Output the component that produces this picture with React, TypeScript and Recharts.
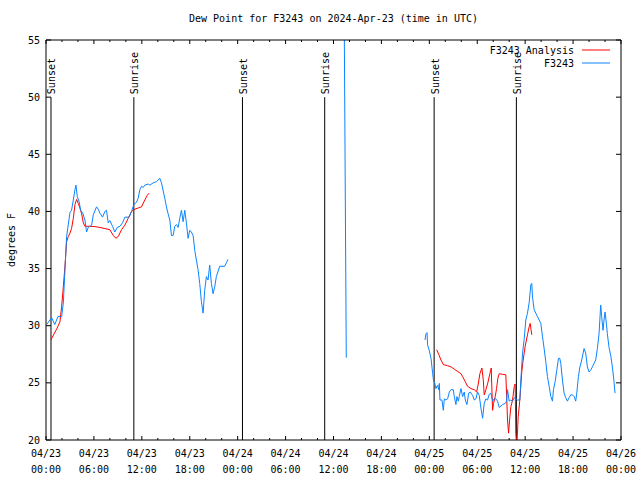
import React from 'react';
import { LineChart, Line, XAxis, YAxis, ReferenceLine } from 'recharts';

const FONT = '"DejaVu Sans Mono", monospace';
const RED = '#ff0000';
const BLUE = '#0a84ff';

// Hours since 2024-04-23 00:00 UTC
const analysisHours = [
  0.6, 1.33, 1.75, 1.96, 2.17, 2.375, 2.58, 2.79, 3.0, 3.2, 3.42, 3.625, 3.83, 4.04, 4.25, 4.46, 4.67, 4.875,
  5.5, 6.125, 6.75, 7.375, 8.0, 8.42, 8.75, 9.04, 9.46, 9.875, 10.29, 10.71, 11.125, 11.54, 11.96, 12.375,
  12.67, 12.92,
  30,
  48.92, 49.17, 49.46, 49.75, 50.29, 50.71, 51.125, 51.54, 51.96, 52.17, 52.5, 52.79, 53.21, 53.625, 53.92,
  54.125, 54.33, 54.58, 54.75, 54.875, 55.08, 55.29, 55.58, 55.75, 55.92, 56.04, 56.25, 56.42, 56.58, 56.75,
  57.17, 57.58, 57.79, 57.92, 58.08, 58.21, 58.42, 58.625, 58.75, 58.83, 58.96, 59.125, 59.33, 59.58, 59.75,
  60.0, 60.29, 60.5, 60.625, 60.75, 60.83,
];
const analysisValues: (number | null)[] = [
  28.75, 29.7, 30.35, 31.7, 33.4, 35.2, 37.35, 37.8, 38.1, 38.5, 39.4, 40.6, 41.05, 40.7, 40.3, 39.8, 39.0, 38.7,
  38.7, 38.67, 38.6, 38.5, 38.4, 37.9, 37.65, 37.8, 38.4, 38.8, 39.4, 40.0, 40.2, 40.3, 40.4, 41.0,
  41.4, 41.6,
  null,
  27.9, 27.5, 27.0, 26.6, 26.5, 26.4, 26.2, 26.0, 25.8, 25.55, 25.1, 24.7, 24.5, 24.4, 24.2,
  24.9, 25.8, 26.3, 25.3, 23.95, 24.4, 24.9, 25.8, 26.3, 22.6, 23.2, 23.8, 24.5, 25.4, 25.8,
  25.75, 25.7, 21.75, 20.6, 22.0, 22.9, 23.5, 24.65, 24.9, 20.6, 19.5, 22.0, 23.5, 26.0, 27.0,
  28.2, 29.2, 29.9, 30.2, 29.6, 29.2,
];

const obsHours = [
  0.08, 0.7, 1.1, 1.5, 1.96, 2.17, 2.58, 3.0, 3.2, 3.42, 3.625, 3.75, 3.92, 4.17, 4.33, 4.58, 4.875, 5.08,
  5.29, 5.71, 5.92, 6.33, 6.54, 6.75, 7.08, 7.375, 7.58, 7.79, 8.0, 8.33, 8.625, 8.92, 9.25, 9.58, 9.875,
  10.42, 10.71, 11.0, 11.33, 11.54, 11.75, 11.96, 12.17, 12.375, 12.79, 13.0, 13.42, 13.83, 14.25, 14.46,
  14.875, 15.08, 15.29, 15.5, 15.71, 15.92, 16.125, 16.33, 16.54, 16.75, 16.96, 17.17, 17.375, 17.58, 17.79,
  18.0, 18.2, 18.42, 18.625, 18.83, 19.04, 19.25, 19.46, 19.67, 19.875, 20.08, 20.29, 20.5, 20.71, 20.92,
  21.125, 21.33, 21.75, 22.375, 22.58, 22.79,
  30,
  37.3, 37.6,
  42,
  47.46, 47.58, 47.71, 47.79, 48.0, 48.21, 48.42, 48.54, 48.67, 48.83, 49.04, 49.17, 49.25, 49.33, 49.58,
  49.75, 49.875, 50.08, 50.29, 50.5, 50.71, 51.0, 51.125, 51.33, 51.46, 51.625, 51.75, 51.96, 52.17, 52.375,
  52.5, 52.71, 52.92, 53.125, 53.42, 53.625, 53.83, 54.04, 54.25, 54.46, 54.67, 54.875, 55.08, 55.29, 55.5,
  55.71, 55.92, 56.125, 56.33, 56.54, 56.75, 57.17, 57.5, 57.67, 57.79, 58.0, 58.21, 58.42, 58.625, 59.04,
  59.33, 59.46, 59.67, 59.875, 60.08, 60.29, 60.5, 60.71, 60.83, 60.92, 61.125, 61.33, 61.54, 61.75, 61.96,
  62.17, 62.375, 62.58, 62.79, 63.0, 63.21, 63.42, 63.54, 63.75, 63.96, 64.17, 64.33, 64.46, 64.67, 64.875,
  65.08, 65.29, 65.5, 65.71, 65.92, 66.125, 66.33, 66.46, 66.67, 66.83, 67.08, 67.375, 67.58, 67.79, 68.0,
  68.2, 68.42, 68.625, 68.83, 69.04, 69.25, 69.46, 69.58, 69.75, 69.875, 70.0, 70.17, 70.29, 70.5, 70.71,
  70.92, 71.125, 71.25,
];
const obsValues: (number | null)[] = [
  30.1, 30.7, 30.1, 30.8, 30.8, 32.0, 37.8, 39.9, 40.1, 41.0, 41.9, 42.3, 41.3, 40.8, 40.1, 39.9, 39.25, 38.2,
  38.6, 38.8, 39.7, 40.4, 40.2, 39.85, 39.5, 40.0, 40.1, 39.0, 39.2, 38.7, 38.2, 38.6, 38.7, 39.0, 39.5,
  39.5, 40.0, 40.6, 40.8, 41.15, 41.9, 42.2, 42.1, 42.3, 42.4, 42.3, 42.5, 42.6, 42.9, 42.5,
  41.15, 40.4, 39.8, 39.25, 37.9, 37.9, 38.7, 38.85, 38.6, 39.4, 40.1, 39.1, 40.1, 39.0, 37.65,
  38.35, 38.2, 37.9, 36.6, 35.75, 34.9, 33.7, 32.1, 31.1, 33.1, 34.3, 34.0, 35.3, 33.7, 32.8,
  33.4, 34.3, 35.2, 35.2, 35.5, 35.8,
  null,
  62, 27.2,
  null,
  28.75, 29.3, 29.4, 28.3, 27.8, 27.15, 25.8, 25.1, 25.0, 24.5, 24.8, 24.4, 24.95, 23.5, 23.5,
  22.6, 23.6, 23.5, 23.6, 24.2, 24.4, 24.4, 23.8, 23.1, 23.8, 23.4, 23.8, 24.5, 23.8, 24.2,
  23.5, 23.1, 24.1, 24.2, 23.9, 23.5, 23.6, 24.2, 23.9, 22.8, 21.9, 23.2, 23.6, 23.5, 24.0,
  24.1, 23.4, 23.6, 23.6, 23.4, 22.85, 23.1, 23.2, 23.4, 24.4, 23.4, 23.5, 23.4, 23.7, 23.5,
  23.5, 25.25, 27.6, 28.8, 30.5, 31.1, 32.0, 33.6, 33.7, 32.5, 31.4, 31.1, 30.8, 30.5, 30.2,
  29.05, 28.0, 26.85, 25.55, 24.7, 23.8, 23.4, 24.4, 25.1, 26.1, 27.15, 27.15, 26.7, 25.25, 24.1,
  23.7, 23.4, 23.7, 23.95, 23.95, 23.8, 23.4, 24.1, 25.55, 26.3, 27.0, 28.0, 27.6, 26.4, 25.95,
  26.1, 26.4, 26.7, 27.0, 28.0, 29.3, 31.8, 30.8, 29.6, 30.5, 31.2, 30.2, 29.3, 28.1, 27.4,
  26.4, 25.1, 24.1,
];

const xTicks = [0, 2, 4, 6, 8, 10, 12, 14, 16, 18, 20, 22, 24, 26, 28, 30, 32, 34, 36, 38, 40, 42, 44, 46, 48,
  50, 52, 54, 56, 58, 60, 62, 64, 66, 68, 70, 72];
const xLabelDates = ['04/23', '04/23', '04/23', '04/23', '04/24', '04/24', '04/24', '04/24', '04/25', '04/25',
  '04/25', '04/25', '04/26'];
const xLabelTimes = ['00:00', '06:00', '12:00', '18:00', '00:00', '06:00', '12:00', '18:00', '00:00', '06:00',
  '12:00', '18:00', '00:00'];
const yTicks = [20, 25, 30, 35, 40, 45, 50, 55];

const sunHours = [0.625, 11.0, 24.6, 34.9, 48.6, 58.9];
const sunLabels = ['Sunset', 'Sunrise', 'Sunset', 'Sunrise', 'Sunset', 'Sunrise'];

const analysisData = analysisHours.map((h, i) => ({ h, v: analysisValues[i] }));
const obsData = obsHours.map((h, i) => ({ h, v: obsValues[i] }));

const BottomTick = (props: any) => {
  const { x, y, payload } = props;
  const v = payload.value as number;
  const major = v % 6 === 0;
  const idx = v / 6;
  return (
    <g>
      <line x1={x} y1={y} x2={x} y2={y - (major ? 4 : 2)} stroke="#000" strokeWidth={1} />
      {major && (
        <text x={x} y={y} textAnchor="middle" fontFamily={FONT} fontSize={10} fill="#000">
          <tspan x={x} dy={17}>{xLabelDates[idx]}</tspan>
          <tspan x={x} dy={16}>{xLabelTimes[idx]}</tspan>
        </text>
      )}
    </g>
  );
};

const TopTick = (props: any) => {
  const { x, y, payload } = props;
  const major = (payload.value as number) % 6 === 0;
  return <line x1={x} y1={y} x2={x} y2={y + (major ? 4 : 2)} stroke="#000" strokeWidth={1} />;
};

const LeftTick = (props: any) => {
  const { x, y, payload } = props;
  return (
    <g>
      <line x1={x} y1={y} x2={x + 5} y2={y} stroke="#000" strokeWidth={1} />
      <text x={x - 6} y={y} dy={3.5} textAnchor="end" fontFamily={FONT} fontSize={10} fill="#000">
        {payload.value}
      </text>
    </g>
  );
};

const RightTick = (props: any) => {
  const { x, y } = props;
  return <line x1={x} y1={y} x2={x - 5} y2={y} stroke="#000" strokeWidth={1} />;
};

const makeSunLabel = (text: string) => (p: any) => {
  const vb = p && p.viewBox;
  if (!vb) return null;
  const x = vb.x + 1;
  const y = vb.y - 3;
  return (
    <text x={x} y={y} transform={`rotate(-90 ${x} ${y})`} textAnchor="start" dominantBaseline="central"
      fontFamily={FONT} fontSize={10} fill="#000">
      {text}
    </text>
  );
};

const yAxisLabel = (p: any) => {
  const vb = p && p.viewBox;
  if (!vb) return null;
  const x = vb.x + 11;
  const y = vb.y + vb.height / 2;
  return (
    <text x={x} y={y} transform={`rotate(-90 ${x} ${y})`} textAnchor="middle" dominantBaseline="central"
      fontFamily={FONT} fontSize={10} fill="#000">
      degrees F
    </text>
  );
};

export default function App() {
  return (
    <div style={{ position: 'absolute', left: 0, top: 0, width: 640, height: 480, background: '#fff' }}>
      <LineChart width={640} height={480} margin={{ top: 0, right: 0, bottom: 0, left: 0 }}>
        <XAxis xAxisId={0} dataKey="h" type="number" domain={[0, 72]} ticks={xTicks} interval={0}
          orientation="bottom" height={40} tickSize={0} tickMargin={0} tickLine={false}
          axisLine={{ stroke: '#000' }} tick={<BottomTick />} allowDataOverflow />
        <XAxis xAxisId="top" dataKey="h" type="number" domain={[0, 72]} ticks={xTicks} interval={0}
          orientation="top" height={40} tickSize={0} tickMargin={0} tickLine={false}
          axisLine={{ stroke: '#000' }} tick={<TopTick />} allowDataOverflow />
        <YAxis yAxisId={0} type="number" domain={[20, 55]} ticks={yTicks} interval={0} width={46}
          tickSize={0} tickMargin={0} tickLine={false} axisLine={{ stroke: '#000' }} tick={<LeftTick />}
          allowDataOverflow label={yAxisLabel} />
        <YAxis yAxisId="right" orientation="right" type="number" domain={[20, 55]} ticks={yTicks}
          interval={0} width={19} tickSize={0} tickMargin={0} tickLine={false} axisLine={{ stroke: '#000' }}
          tick={<RightTick />} allowDataOverflow />
        {sunHours.map((h, i) => (
          <ReferenceLine key={`sun${i}`} segment={[{ x: h, y: 20 }, { x: h, y: 50 }]} stroke="#000"
            strokeWidth={1} label={makeSunLabel(sunLabels[i])} ifOverflow="visible" />
        ))}
        <Line data={analysisData} dataKey="v" type="linear" stroke={RED} strokeWidth={1} dot={false}
          activeDot={false} connectNulls={false} isAnimationActive={false} />
        <Line data={obsData} dataKey="v" type="linear" stroke={BLUE} strokeWidth={1} dot={false}
          activeDot={false} connectNulls={false} isAnimationActive={false} />
      </LineChart>
      <div style={{ position: 'absolute', left: 46, top: 13, width: 575, textAlign: 'center',
        fontFamily: FONT, fontSize: 10, lineHeight: '12px', color: '#000' }}>
        Dew Point for F3243 on 2024-Apr-23 (time in UTC)
      </div>
      <svg width={640} height={480} style={{ position: 'absolute', left: 0, top: 0, pointerEvents: 'none' }}>
        <text x={574} y={50} dy={3.5} textAnchor="end" fontFamily={FONT} fontSize={10} fill="#000">F3243 Analysis</text>
        <line x1={582} y1={50} x2={610} y2={50} stroke={RED} strokeWidth={1} />
        <text x={574} y={63} dy={3.5} textAnchor="end" fontFamily={FONT} fontSize={10} fill="#000">F3243</text>
        <line x1={582} y1={63} x2={610} y2={63} stroke={BLUE} strokeWidth={1} />
      </svg>
    </div>
  );
}
